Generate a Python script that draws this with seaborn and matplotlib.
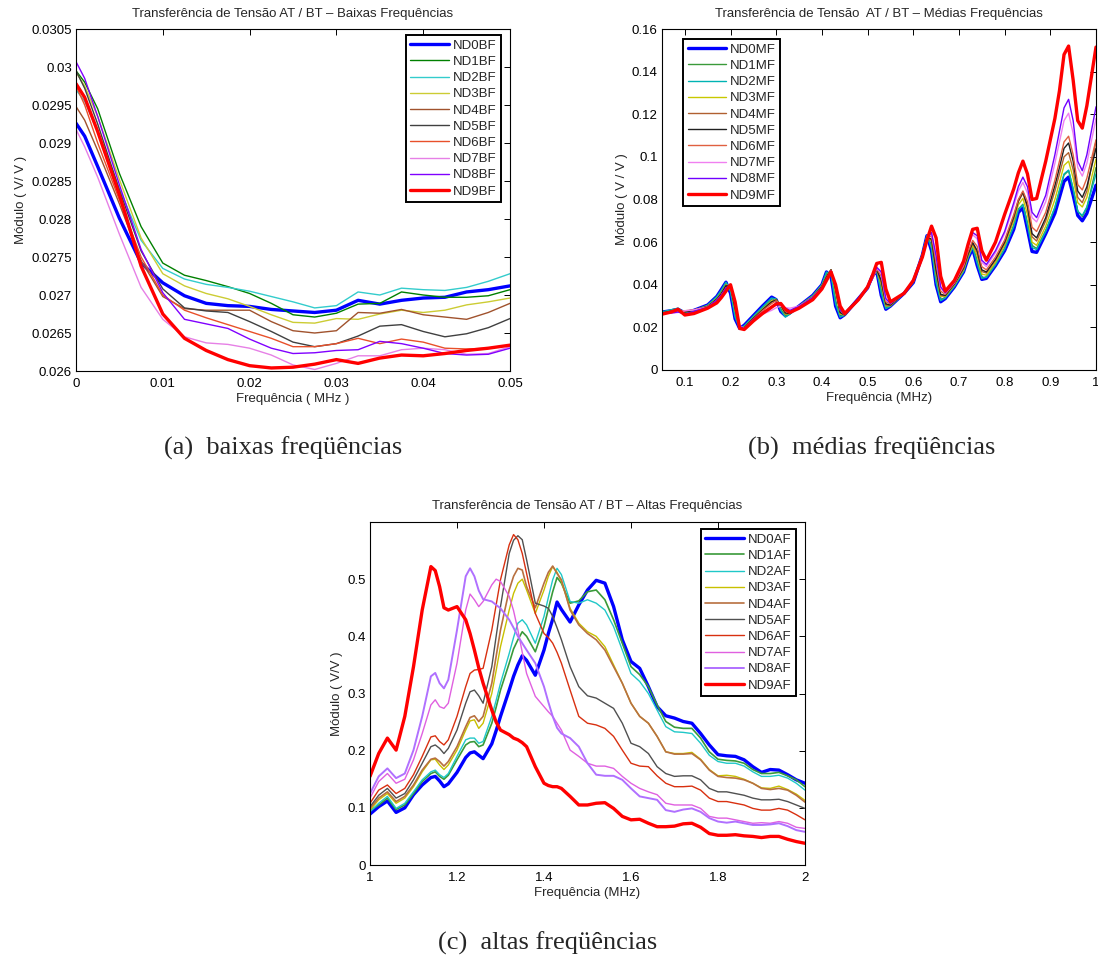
import numpy as np
import pandas as pd
import matplotlib
matplotlib.use("Agg")
import matplotlib.pyplot as plt
import seaborn as sns
from matplotlib.ticker import FuncFormatter

# ---------------- data: (a) baixas frequencias ----------------
freq_a = [0, 0.001, 0.0025, 0.005, 0.0075, 0.01, 0.0125, 0.015, 0.0175, 0.02, 0.0225,
          0.025, 0.0275, 0.03, 0.0325, 0.035, 0.0375, 0.04, 0.0425, 0.045, 0.0475, 0.05]

modulo_a = {
    "ND0BF": [0.02926, 0.02909, 0.02869, 0.02801, 0.02742, 0.02716, 0.02699, 0.02689, 0.02686, 0.02685, 0.02681,
              0.02679, 0.02677, 0.02680, 0.02693, 0.02688, 0.02693, 0.02696, 0.02697, 0.02704, 0.02707, 0.02712],
    "ND1BF": [0.02995, 0.02980, 0.02945, 0.02860, 0.02790, 0.02742, 0.02726, 0.02719, 0.02711, 0.02702, 0.02689,
              0.02674, 0.02671, 0.02676, 0.02688, 0.02689, 0.02704, 0.02700, 0.02697, 0.02697, 0.02699, 0.02707],
    "ND2BF": [0.02970, 0.02955, 0.02915, 0.02840, 0.02772, 0.02735, 0.02721, 0.02714, 0.02710, 0.02705, 0.02698,
              0.02691, 0.02683, 0.02686, 0.02704, 0.02700, 0.02709, 0.02707, 0.02706, 0.02710, 0.02718, 0.02728],
    "ND3BF": [0.02993, 0.02975, 0.02935, 0.02852, 0.02775, 0.02728, 0.02712, 0.02702, 0.02695, 0.02685, 0.02674,
              0.02664, 0.02663, 0.02669, 0.02668, 0.02675, 0.02680, 0.02677, 0.02680, 0.02687, 0.02691, 0.02696],
    "ND4BF": [0.02948, 0.02930, 0.02890, 0.02820, 0.02745, 0.02698, 0.02682, 0.02680, 0.02680, 0.02680, 0.02665,
              0.02653, 0.02650, 0.02653, 0.02677, 0.02676, 0.02681, 0.02674, 0.02671, 0.02668, 0.02677, 0.02689],
    "ND5BF": [0.02995, 0.02972, 0.02925, 0.02838, 0.02758, 0.02708, 0.02683, 0.02679, 0.02677, 0.02665, 0.02652,
              0.02638, 0.02632, 0.02636, 0.02646, 0.02659, 0.02661, 0.02652, 0.02645, 0.02649, 0.02657, 0.02669],
    "ND6BF": [0.02975, 0.02950, 0.02900, 0.02825, 0.02750, 0.02700, 0.02680, 0.02670, 0.02661, 0.02652, 0.02643,
              0.02632, 0.02632, 0.02636, 0.02643, 0.02636, 0.02642, 0.02638, 0.02630, 0.02629, 0.02630, 0.02634],
    "ND7BF": [0.02918, 0.02895, 0.02855, 0.02780, 0.02710, 0.02668, 0.02645, 0.02637, 0.02635, 0.02630, 0.02621,
              0.02608, 0.02602, 0.02610, 0.02620, 0.02620, 0.02628, 0.02630, 0.02628, 0.02622, 0.02623, 0.02632],
    "ND8BF": [0.03007, 0.02985, 0.02935, 0.02845, 0.02760, 0.02703, 0.02668, 0.02662, 0.02656, 0.02642, 0.02630,
              0.02623, 0.02624, 0.02627, 0.02628, 0.02639, 0.02636, 0.02630, 0.02623, 0.02621, 0.02622, 0.02630],
    "ND9BF": [0.02978, 0.02960, 0.02915, 0.02832, 0.02738, 0.02675, 0.02643, 0.02627, 0.02615, 0.02607, 0.02604,
              0.02605, 0.02609, 0.02615, 0.02610, 0.02617, 0.02621, 0.02620, 0.02623, 0.02627, 0.02630, 0.02634],
}

# ---------------- data: (b) medias frequencias ----------------
freq_b = [0.05, 0.07, 0.085, 0.10, 0.12, 0.15, 0.17, 0.18, 0.19, 0.20,
          0.21, 0.22, 0.23, 0.25, 0.27, 0.29, 0.30, 0.31, 0.32, 0.33,
          0.35, 0.38, 0.40, 0.41, 0.42, 0.43, 0.44, 0.45, 0.48, 0.50,
          0.51, 0.52, 0.53, 0.54, 0.55, 0.58, 0.60, 0.62, 0.63, 0.64,
          0.65, 0.66, 0.67, 0.69, 0.71, 0.72, 0.73, 0.74, 0.75, 0.76,
          0.78, 0.80, 0.82, 0.83, 0.84, 0.85, 0.86, 0.87, 0.89, 0.91,
          0.92, 0.93, 0.94, 0.95, 0.96, 0.97, 0.98, 1.00]

modulo_b = {
    "ND0MF": [0.0272, 0.0278, 0.0285, 0.0268, 0.0280, 0.0305, 0.0345, 0.0378, 0.0412, 0.0360,
              0.0240, 0.0195, 0.0210, 0.0255, 0.0300, 0.0342, 0.0330, 0.0275, 0.0255, 0.0268,
              0.0300, 0.0350, 0.0400, 0.0460, 0.0440, 0.0300, 0.0245, 0.0260, 0.0335, 0.0385,
              0.0440, 0.0465, 0.0350, 0.0285, 0.0300, 0.0360, 0.0410, 0.0540, 0.0630, 0.0560,
              0.0400, 0.0320, 0.0335, 0.0390, 0.0460, 0.0525, 0.0570, 0.0490, 0.0425, 0.0430,
              0.0490, 0.0560, 0.0660, 0.0740, 0.0760, 0.0660, 0.0556, 0.0552, 0.0640, 0.0735,
              0.0810, 0.0885, 0.0905, 0.0820, 0.0725, 0.0700, 0.0735, 0.0867],
    "ND1MF": [0.0270, 0.0282, 0.0288, 0.0270, 0.0280, 0.0303, 0.0342, 0.0372, 0.0410, 0.0375,
              0.0255, 0.0195, 0.0205, 0.0250, 0.0292, 0.0335, 0.0333, 0.0285, 0.0255, 0.0265,
              0.0300, 0.0348, 0.0398, 0.0455, 0.0455, 0.0320, 0.0250, 0.0258, 0.0330, 0.0385,
              0.0435, 0.0468, 0.0370, 0.0290, 0.0300, 0.0362, 0.0412, 0.0545, 0.0630, 0.0580,
              0.0420, 0.0330, 0.0340, 0.0395, 0.0465, 0.0530, 0.0578, 0.0510, 0.0435, 0.0435,
              0.0495, 0.0570, 0.0680, 0.0755, 0.0778, 0.0690, 0.0585, 0.0570, 0.0655, 0.0760,
              0.0840, 0.0915, 0.0935, 0.0850, 0.0745, 0.0720, 0.0760, 0.0950],
    "ND2MF": [0.0273, 0.0282, 0.0290, 0.0268, 0.0279, 0.0304, 0.0344, 0.0375, 0.0412, 0.0368,
              0.0248, 0.0195, 0.0207, 0.0252, 0.0296, 0.0338, 0.0332, 0.0280, 0.0248, 0.0262,
              0.0300, 0.0349, 0.0400, 0.0460, 0.0448, 0.0310, 0.0248, 0.0258, 0.0332, 0.0385,
              0.0438, 0.0466, 0.0360, 0.0288, 0.0300, 0.0361, 0.0411, 0.0542, 0.0630, 0.0570,
              0.0410, 0.0325, 0.0338, 0.0392, 0.0462, 0.0528, 0.0575, 0.0500, 0.0430, 0.0435,
              0.0495, 0.0568, 0.0675, 0.0752, 0.0775, 0.0680, 0.0575, 0.0565, 0.0650, 0.0765,
              0.0845, 0.0920, 0.0938, 0.0850, 0.0745, 0.0725, 0.0765, 0.0920],
    "ND3MF": [0.0268, 0.0275, 0.0282, 0.0272, 0.0280, 0.0300, 0.0335, 0.0362, 0.0400, 0.0390,
              0.0280, 0.0198, 0.0200, 0.0245, 0.0285, 0.0325, 0.0330, 0.0300, 0.0262, 0.0265,
              0.0300, 0.0345, 0.0395, 0.0440, 0.0470, 0.0360, 0.0262, 0.0258, 0.0330, 0.0385,
              0.0430, 0.0470, 0.0400, 0.0300, 0.0302, 0.0362, 0.0415, 0.0545, 0.0625, 0.0605,
              0.0450, 0.0345, 0.0345, 0.0400, 0.0470, 0.0535, 0.0585, 0.0535, 0.0450, 0.0445,
              0.0505, 0.0585, 0.0700, 0.0775, 0.0805, 0.0730, 0.0600, 0.0585, 0.0675, 0.0800,
              0.0880, 0.0960, 0.0980, 0.0900, 0.0785, 0.0765, 0.0810, 0.0990],
    "ND4MF": [0.0265, 0.0270, 0.0275, 0.0275, 0.0282, 0.0298, 0.0332, 0.0360, 0.0398, 0.0390,
              0.0285, 0.0198, 0.0198, 0.0242, 0.0282, 0.0320, 0.0328, 0.0302, 0.0265, 0.0265,
              0.0298, 0.0342, 0.0392, 0.0438, 0.0470, 0.0375, 0.0268, 0.0258, 0.0330, 0.0385,
              0.0428, 0.0470, 0.0410, 0.0305, 0.0303, 0.0362, 0.0415, 0.0545, 0.0622, 0.0610,
              0.0460, 0.0350, 0.0348, 0.0402, 0.0475, 0.0540, 0.0595, 0.0550, 0.0462, 0.0455,
              0.0515, 0.0595, 0.0712, 0.0790, 0.0830, 0.0760, 0.0625, 0.0605, 0.0700, 0.0840,
              0.0920, 0.1000, 0.1020, 0.0940, 0.0810, 0.0785, 0.0840, 0.1075],
    "ND5MF": [0.0268, 0.0276, 0.0280, 0.0272, 0.0280, 0.0298, 0.0332, 0.0358, 0.0395, 0.0392,
              0.0290, 0.0200, 0.0198, 0.0242, 0.0282, 0.0320, 0.0328, 0.0305, 0.0268, 0.0265,
              0.0298, 0.0342, 0.0392, 0.0435, 0.0470, 0.0380, 0.0270, 0.0258, 0.0330, 0.0385,
              0.0428, 0.0472, 0.0420, 0.0310, 0.0305, 0.0362, 0.0415, 0.0545, 0.0620, 0.0615,
              0.0470, 0.0355, 0.0350, 0.0405, 0.0478, 0.0545, 0.0598, 0.0560, 0.0470, 0.0460,
              0.0520, 0.0600, 0.0720, 0.0795, 0.0835, 0.0770, 0.0640, 0.0620, 0.0715, 0.0865,
              0.0950, 0.1040, 0.1065, 0.0980, 0.0840, 0.0810, 0.0860, 0.1040],
    "ND6MF": [0.0265, 0.0268, 0.0272, 0.0278, 0.0282, 0.0296, 0.0328, 0.0352, 0.0385, 0.0395,
              0.0310, 0.0205, 0.0195, 0.0238, 0.0278, 0.0312, 0.0325, 0.0310, 0.0275, 0.0268,
              0.0296, 0.0340, 0.0388, 0.0428, 0.0468, 0.0395, 0.0280, 0.0260, 0.0330, 0.0385,
              0.0425, 0.0475, 0.0440, 0.0320, 0.0310, 0.0362, 0.0418, 0.0540, 0.0615, 0.0630,
              0.0500, 0.0370, 0.0355, 0.0408, 0.0485, 0.0555, 0.0608, 0.0580, 0.0485, 0.0470,
              0.0530, 0.0610, 0.0730, 0.0800, 0.0840, 0.0790, 0.0670, 0.0650, 0.0740, 0.0890,
              0.0980, 0.1070, 0.1097, 0.1010, 0.0870, 0.0845, 0.0900, 0.1080],
    "ND7MF": [0.0265, 0.0266, 0.0270, 0.0278, 0.0282, 0.0295, 0.0325, 0.0350, 0.0382, 0.0392,
              0.0315, 0.0208, 0.0195, 0.0235, 0.0262, 0.0280, 0.0292, 0.0300, 0.0292, 0.0290,
              0.0300, 0.0340, 0.0385, 0.0425, 0.0462, 0.0400, 0.0285, 0.0262, 0.0330, 0.0385,
              0.0425, 0.0478, 0.0455, 0.0330, 0.0312, 0.0362, 0.0420, 0.0540, 0.0615, 0.0640,
              0.0530, 0.0385, 0.0360, 0.0410, 0.0495, 0.0575, 0.0635, 0.0615, 0.0505, 0.0485,
              0.0550, 0.0640, 0.0770, 0.0840, 0.0880, 0.0830, 0.0715, 0.0695, 0.0790, 0.0970,
              0.1070, 0.1170, 0.1205, 0.1110, 0.0950, 0.0910, 0.0970, 0.1180],
    "ND8MF": [0.0266, 0.0268, 0.0272, 0.0262, 0.0275, 0.0295, 0.0328, 0.0352, 0.0385, 0.0395,
              0.0312, 0.0205, 0.0195, 0.0238, 0.0270, 0.0295, 0.0305, 0.0308, 0.0290, 0.0280,
              0.0298, 0.0340, 0.0388, 0.0428, 0.0465, 0.0398, 0.0282, 0.0260, 0.0330, 0.0385,
              0.0425, 0.0482, 0.0460, 0.0335, 0.0312, 0.0362, 0.0420, 0.0540, 0.0618, 0.0645,
              0.0535, 0.0390, 0.0362, 0.0412, 0.0500, 0.0582, 0.0645, 0.0630, 0.0515, 0.0495,
              0.0560, 0.0650, 0.0785, 0.0860, 0.0905, 0.0860, 0.0740, 0.0715, 0.0820, 0.1010,
              0.1120, 0.1230, 0.1270, 0.1170, 0.0980, 0.0935, 0.1010, 0.1235],
    "ND9MF": [0.0262, 0.0272, 0.0285, 0.0258, 0.0265, 0.0290, 0.0315, 0.0340, 0.0370, 0.0400,
              0.0320, 0.0195, 0.0190, 0.0230, 0.0265, 0.0295, 0.0310, 0.0312, 0.0285, 0.0270,
              0.0290, 0.0330, 0.0380, 0.0420, 0.0460, 0.0400, 0.0300, 0.0265, 0.0330, 0.0390,
              0.0440, 0.0500, 0.0505, 0.0380, 0.0320, 0.0360, 0.0420, 0.0530, 0.0610, 0.0675,
              0.0620, 0.0440, 0.0370, 0.0420, 0.0510, 0.0590, 0.0660, 0.0665, 0.0560, 0.0515,
              0.0600, 0.0730, 0.0850, 0.0925, 0.0980, 0.0920, 0.0800, 0.0805, 0.0980, 0.1180,
              0.1310, 0.1480, 0.1520, 0.1360, 0.1170, 0.1135, 0.1240, 0.1515],
}

# ---------------- data: (c) altas frequencias ----------------
freq_c = [1.00, 1.02, 1.04, 1.06, 1.08, 1.10, 1.12, 1.14, 1.15, 1.16,
          1.17, 1.18, 1.20, 1.22, 1.23, 1.24, 1.25, 1.26, 1.28, 1.29,
          1.30, 1.32, 1.33, 1.34, 1.35, 1.36, 1.38, 1.40, 1.41, 1.42,
          1.43, 1.44, 1.46, 1.48, 1.50, 1.52, 1.54, 1.56, 1.58, 1.60,
          1.62, 1.64, 1.66, 1.68, 1.70, 1.72, 1.74, 1.76, 1.78, 1.80,
          1.82, 1.84, 1.86, 1.88, 1.90, 1.92, 1.94, 1.96, 1.98, 2.00]

modulo_c = {
    "ND0AF": [0.089, 0.102, 0.112, 0.092, 0.100, 0.123, 0.140, 0.153, 0.155, 0.147,
              0.137, 0.142, 0.162, 0.188, 0.196, 0.198, 0.192, 0.186, 0.212, 0.235,
              0.260, 0.306, 0.330, 0.350, 0.366, 0.358, 0.332, 0.376, 0.405, 0.430,
              0.460, 0.447, 0.425, 0.455, 0.481, 0.498, 0.493, 0.452, 0.394, 0.356,
              0.344, 0.312, 0.277, 0.261, 0.257, 0.251, 0.248, 0.230, 0.210, 0.193,
              0.191, 0.190, 0.184, 0.172, 0.162, 0.167, 0.166, 0.158, 0.149, 0.143],
    "ND1AF": [0.095, 0.105, 0.117, 0.097, 0.105, 0.125, 0.146, 0.160, 0.163, 0.155,
              0.150, 0.157, 0.184, 0.210, 0.215, 0.216, 0.207, 0.210, 0.248, 0.276,
              0.306, 0.353, 0.378, 0.394, 0.408, 0.400, 0.373, 0.417, 0.448, 0.478,
              0.503, 0.493, 0.458, 0.462, 0.478, 0.481, 0.464, 0.429, 0.388, 0.347,
              0.333, 0.312, 0.280, 0.251, 0.241, 0.239, 0.239, 0.222, 0.198, 0.185,
              0.183, 0.182, 0.178, 0.167, 0.160, 0.160, 0.162, 0.156, 0.149, 0.137],
    "ND2AF": [0.093, 0.108, 0.120, 0.099, 0.108, 0.128, 0.149, 0.163, 0.166, 0.158,
              0.153, 0.160, 0.190, 0.219, 0.222, 0.222, 0.213, 0.216, 0.260, 0.288,
              0.318, 0.370, 0.398, 0.423, 0.429, 0.420, 0.388, 0.435, 0.468, 0.499,
              0.519, 0.508, 0.461, 0.458, 0.464, 0.458, 0.446, 0.417, 0.376, 0.335,
              0.321, 0.300, 0.271, 0.242, 0.233, 0.232, 0.230, 0.213, 0.192, 0.181,
              0.178, 0.178, 0.173, 0.163, 0.155, 0.155, 0.157, 0.152, 0.143, 0.131],
    "ND3AF": [0.096, 0.114, 0.125, 0.108, 0.117, 0.137, 0.163, 0.184, 0.185, 0.175,
              0.167, 0.175, 0.201, 0.236, 0.252, 0.254, 0.239, 0.248, 0.300, 0.340,
              0.382, 0.446, 0.475, 0.493, 0.500, 0.481, 0.440, 0.481, 0.505, 0.522,
              0.512, 0.496, 0.449, 0.423, 0.408, 0.400, 0.382, 0.350, 0.318, 0.283,
              0.260, 0.248, 0.225, 0.198, 0.195, 0.195, 0.197, 0.185, 0.167, 0.156,
              0.157, 0.155, 0.150, 0.143, 0.135, 0.134, 0.138, 0.132, 0.124, 0.113],
    "ND4AF": [0.099, 0.117, 0.128, 0.111, 0.120, 0.140, 0.166, 0.185, 0.187, 0.181,
              0.173, 0.181, 0.207, 0.242, 0.258, 0.261, 0.251, 0.260, 0.318, 0.365,
              0.411, 0.481, 0.505, 0.519, 0.516, 0.487, 0.450, 0.493, 0.512, 0.523,
              0.510, 0.499, 0.446, 0.420, 0.405, 0.394, 0.376, 0.347, 0.318, 0.283,
              0.260, 0.248, 0.225, 0.198, 0.194, 0.194, 0.195, 0.184, 0.166, 0.155,
              0.153, 0.152, 0.149, 0.143, 0.134, 0.132, 0.134, 0.131, 0.122, 0.110],
    "ND5AF": [0.102, 0.122, 0.134, 0.117, 0.125, 0.149, 0.178, 0.207, 0.210, 0.204,
              0.195, 0.204, 0.236, 0.283, 0.303, 0.306, 0.296, 0.283, 0.347, 0.400,
              0.452, 0.545, 0.568, 0.576, 0.569, 0.534, 0.458, 0.453, 0.449, 0.435,
              0.415, 0.394, 0.347, 0.312, 0.296, 0.292, 0.283, 0.274, 0.248, 0.213,
              0.207, 0.195, 0.172, 0.160, 0.155, 0.156, 0.156, 0.149, 0.134, 0.128,
              0.128, 0.125, 0.122, 0.117, 0.114, 0.114, 0.115, 0.111, 0.105, 0.099],
    "ND6AF": [0.108, 0.131, 0.140, 0.125, 0.134, 0.158, 0.190, 0.224, 0.226, 0.216,
              0.210, 0.219, 0.260, 0.312, 0.335, 0.341, 0.342, 0.344, 0.411, 0.455,
              0.499, 0.560, 0.578, 0.569, 0.545, 0.510, 0.440, 0.405, 0.398, 0.388,
              0.372, 0.353, 0.306, 0.260, 0.248, 0.245, 0.239, 0.225, 0.201, 0.178,
              0.173, 0.172, 0.156, 0.143, 0.137, 0.137, 0.138, 0.131, 0.117, 0.111,
              0.111, 0.108, 0.105, 0.099, 0.096, 0.096, 0.099, 0.096, 0.088, 0.079],
    "ND7AF": [0.117, 0.146, 0.160, 0.143, 0.150, 0.184, 0.230, 0.280, 0.289, 0.277,
              0.274, 0.283, 0.353, 0.446, 0.474, 0.464, 0.452, 0.461, 0.490, 0.500,
              0.496, 0.470, 0.445, 0.411, 0.372, 0.335, 0.295, 0.277, 0.268, 0.260,
              0.248, 0.236, 0.201, 0.190, 0.178, 0.173, 0.173, 0.169, 0.155, 0.143,
              0.134, 0.128, 0.123, 0.108, 0.105, 0.105, 0.105, 0.099, 0.085, 0.082,
              0.082, 0.079, 0.076, 0.073, 0.074, 0.073, 0.076, 0.073, 0.066, 0.064],
    "ND8AF": [0.125, 0.155, 0.169, 0.152, 0.160, 0.201, 0.260, 0.330, 0.336, 0.318,
              0.309, 0.324, 0.411, 0.505, 0.519, 0.505, 0.480, 0.465, 0.461, 0.455,
              0.449, 0.429, 0.415, 0.400, 0.388, 0.376, 0.353, 0.312, 0.285, 0.260,
              0.240, 0.230, 0.222, 0.207, 0.178, 0.158, 0.156, 0.156, 0.149, 0.134,
              0.120, 0.117, 0.114, 0.096, 0.093, 0.097, 0.099, 0.093, 0.082, 0.076,
              0.074, 0.076, 0.073, 0.070, 0.070, 0.071, 0.073, 0.068, 0.061, 0.058],
    "ND9AF": [0.155, 0.195, 0.222, 0.201, 0.260, 0.347, 0.446, 0.522, 0.515, 0.487,
              0.450, 0.446, 0.452, 0.429, 0.405, 0.376, 0.345, 0.318, 0.271, 0.250,
              0.236, 0.228, 0.222, 0.219, 0.214, 0.207, 0.172, 0.143, 0.139, 0.137,
              0.137, 0.134, 0.120, 0.105, 0.105, 0.108, 0.109, 0.099, 0.085, 0.079,
              0.080, 0.073, 0.067, 0.067, 0.068, 0.072, 0.073, 0.066, 0.055, 0.052,
              0.052, 0.053, 0.051, 0.050, 0.048, 0.050, 0.050, 0.045, 0.041, 0.038],
}

# cores estilo MATLAB
cores_a = ["#0000ff", "#008000", "#33cccc", "#cccc33", "#a0522d",
           "#404040", "#e8502a", "#e680e6", "#8000ff", "#ff0000"]
cores_b = ["#0000ff", "#3a9a3a", "#00b3b3", "#c8c800", "#b06030",
           "#202020", "#e06040", "#f080f0", "#7000ff", "#ff0000"]
cores_c = ["#0000ff", "#3a9a3a", "#20c8c8", "#c8c000", "#b87040",
           "#505050", "#d83010", "#e060e0", "#b070ff", "#ff0000"]
larg_a = [2.4, 1.0, 1.0, 1.0, 1.0, 1.0, 1.0, 1.0, 1.0, 2.4]
larg_b = [2.4, 1.0, 1.0, 1.0, 1.0, 1.0, 1.0, 1.0, 1.0, 2.4]
larg_c = [2.4, 1.2, 1.0, 1.0, 1.2, 1.0, 1.0, 1.0, 1.4, 2.4]

sns.set_theme(style="white")
plt.rcParams["font.family"] = ["Liberation Sans", "DejaVu Sans"]
plt.rcParams["axes.edgecolor"] = "black"
plt.rcParams["axes.linewidth"] = 0.8

W, H = 1098, 956
FS = 9.5
fig = plt.figure(figsize=(W / 100, H / 100), dpi=100)


def px_axes(left, top, right, bottom):
    return fig.add_axes([left / W, 1 - bottom / H, (right - left) / W, (bottom - top) / H])


def desenha(ax, freq, modulo, cores, larg):
    for (nome, vals), c, lw in zip(modulo.items(), cores, larg):
        sns.lineplot(x=freq, y=vals, ax=ax, color=c, linewidth=lw, label=nome,
                     errorbar=None, sort=False)
    ax.tick_params(direction="in", top=True, right=True, length=4, width=0.7,
                   labelsize=FS, colors="black", pad=3)
    ax.tick_params(axis="x", pad=5)
    fmt = FuncFormatter(lambda v, p: "%g" % round(v, 6))
    ax.xaxis.set_major_formatter(fmt)
    ax.yaxis.set_major_formatter(fmt)
    for s in ax.spines.values():
        s.set_color("black")
        s.set_linewidth(0.8)


def legenda(ax, loc, anchor):
    leg = ax.legend(loc=loc, bbox_to_anchor=anchor, borderaxespad=0, fontsize=FS,
                    frameon=True, fancybox=False, framealpha=1, edgecolor="black",
                    handlelength=2.9, handletextpad=0.3, labelspacing=0.3,
                    borderpad=0.35)
    leg.get_frame().set_linewidth(1.4)


# (a)
ax_a = px_axes(76, 29, 510, 371)
desenha(ax_a, freq_a, modulo_a, cores_a, larg_a)
ax_a.set_xlim(0, 0.05)
ax_a.set_ylim(0.026, 0.0305)
ax_a.set_xticks(np.arange(0, 0.0501, 0.01))
ax_a.set_yticks(np.arange(0.026, 0.03051, 0.0005))
ax_a.set_title("Transferência de Tensão AT / BT – Baixas Frequências", fontsize=FS, pad=9)
ax_a.set_xlabel("Frequência ( MHz )", fontsize=FS, labelpad=2)
ax_a.set_ylabel("Módulo ( V/ V )", fontsize=FS, labelpad=3)
legenda(ax_a, "upper right", (1 - 9 / 434, 1 - 6 / 342))

# (b)
ax_b = px_axes(662, 29, 1096, 370)
desenha(ax_b, freq_b, modulo_b, cores_b, larg_b)
ax_b.set_xlim(0.05, 1.0)
ax_b.set_ylim(0, 0.16)
ax_b.set_xticks(np.arange(0.1, 1.001, 0.1))
ax_b.set_yticks(np.arange(0, 0.1601, 0.02))
ax_b.set_title("Transferência de Tensão  AT / BT – Médias Frequências", fontsize=FS, pad=9)
ax_b.set_xlabel("Frequência (MHz)", fontsize=FS, labelpad=2)
ax_b.set_ylabel("Módulo ( V / V )", fontsize=FS, labelpad=3)
legenda(ax_b, "upper left", (21 / 434, 1 - 10 / 341))

# (c)
ax_c = px_axes(370, 522, 805, 865)
desenha(ax_c, freq_c, modulo_c, cores_c, larg_c)
ax_c.set_xlim(1, 2)
ax_c.set_ylim(0, 0.6)
ax_c.set_xticks(np.arange(1, 2.001, 0.2))
ax_c.set_yticks(np.arange(0, 0.501, 0.1))
ax_c.set_title("Transferência de Tensão AT / BT – Altas Frequências", fontsize=FS, pad=9)
ax_c.set_xlabel("Frequência (MHz)", fontsize=FS, labelpad=2)
ax_c.set_ylabel("Módulo ( V/V )", fontsize=FS, labelpad=3)
legenda(ax_c, "upper right", (1 - 9 / 435, 1 - 7 / 343))

# legendas das sub-figuras
serif = ["Liberation Serif", "DejaVu Serif"]
fig.text(283 / W, 1 - 448 / H, "(a)  baixas freqüências", ha="center", va="center",
         fontsize=19, family=serif)
fig.text(872 / W, 1 - 448 / H, "(b)  médias freqüências", ha="center", va="center",
         fontsize=19, family=serif)
fig.text(548 / W, 1 - 943 / H, "(c)  altas freqüências", ha="center", va="center",
         fontsize=19, family=serif)

fig.savefig("out.png", dpi=100, facecolor="white")
